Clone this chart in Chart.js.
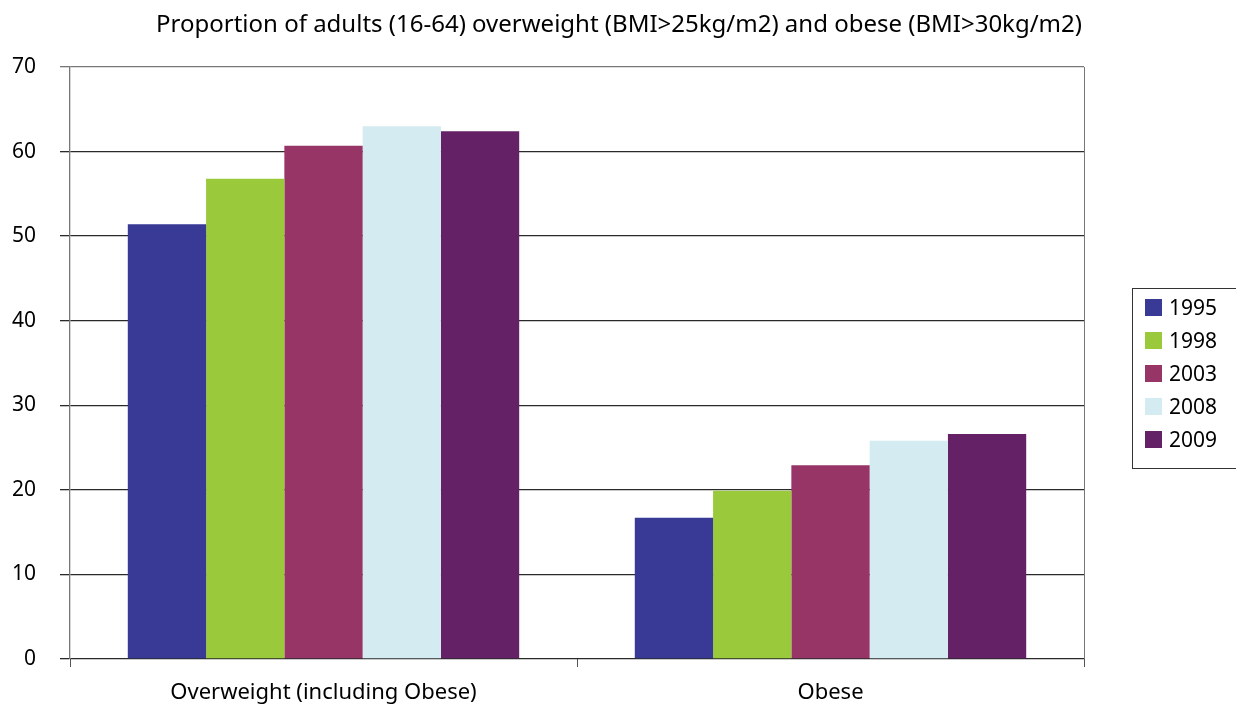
<!DOCTYPE html>
<html>
<head>
<meta charset="utf-8">
<script src="https://cdn.jsdelivr.net/npm/chart.js@4/dist/chart.umd.min.js"></script>
<style>
  html, body { margin: 0; padding: 0; background: #fff; }
  #wrap { width: 1236px; height: 706px; }
</style>
</head>
<body>
<div id="wrap"><canvas id="c" width="1236" height="706"></canvas></div>
<script>
const title = 'Proportion of adults (16-64) overweight (BMI>25kg/m2) and obese (BMI>30kg/m2)';
const categories = ['Overweight (including Obese)', 'Obese'];
const years = ['1995', '1998', '2003', '2008', '2009'];
const v1995 = [51.4, 16.7];
const v1998 = [56.8, 19.9];
const v2003 = [60.7, 22.9];
const v2008 = [63.0, 25.8];
const v2009 = [62.4, 26.6];
const colors = ['#393996', '#9bc93c', '#973567', '#d4ebf1', '#642165'];

const FONT = '"Noto Sans", "Open Sans", sans-serif';
const series = [v1995, v1998, v2003, v2008, v2009];

const frame = {
  id: 'frame',
  afterDraw(chart) {
    const ctx = chart.ctx;
    const a = chart.chartArea;
    ctx.save();
    // title
    ctx.fillStyle = '#000';
    ctx.font = '24px ' + FONT;
    ctx.textAlign = 'center';
    ctx.textBaseline = 'middle';
    ctx.fillText(title, 619, 25);
    // right edge of plot
    ctx.strokeStyle = '#777';
    ctx.lineWidth = 1;
    ctx.beginPath();
    ctx.moveTo(a.right + 0.5, a.top);
    ctx.lineTo(a.right + 0.5, a.bottom);
    ctx.stroke();
    // legend
    ctx.strokeStyle = '#333';
    ctx.strokeRect(1132.5, 288.5, 110, 180);
    ctx.textAlign = 'left';
    chart.data.datasets.forEach((ds, i) => {
      const y = 299 + i * 33;
      ctx.fillStyle = ds.backgroundColor;
      ctx.fillRect(1145, y, 17, 17);
      ctx.fillStyle = '#000';
      ctx.font = '21px ' + FONT;
      ctx.fillText(ds.label, 1169, y + 10);
    });
    ctx.restore();
  }
};

new Chart(document.getElementById('c'), {
  type: 'bar',
  data: {
    labels: categories,
    datasets: years.map((y, i) => ({
      label: y,
      data: series[i],
      backgroundColor: colors[i],
      borderWidth: 0
    }))
  },
  options: {
    responsive: false,
    animation: false,
    devicePixelRatio: 1,
    layout: { padding: { top: 67, right: 152, left: 0, bottom: 0 } },
    datasets: { bar: { barPercentage: 1, categoryPercentage: 0.772 } },
    plugins: { legend: { display: false }, title: { display: false }, tooltip: { enabled: false } },
    scales: {
      x: {
        grid: { drawOnChartArea: false, color: '#555', tickLength: 8, lineWidth: 1 },
        border: { display: false },
        ticks: { color: '#000', font: { family: FONT, size: 22 }, padding: 13 },
        afterFit(s) { s.height = 47; }
      },
      y: {
        min: 0, max: 70,
        ticks: { stepSize: 10, color: '#000', font: { family: FONT, size: 21 }, padding: 24 },
        grid: {
          color: (c) => c.tick && c.tick.value === 70 ? '#777' : '#2a2a2a',
          lineWidth: 1.3,
          tickLength: 10
        },
        border: { color: '#777', width: 1.3 },
        afterFit(s) { s.width = 70; }
      }
    }
  },
  plugins: [frame]
});
</script>
</body>
</html>
